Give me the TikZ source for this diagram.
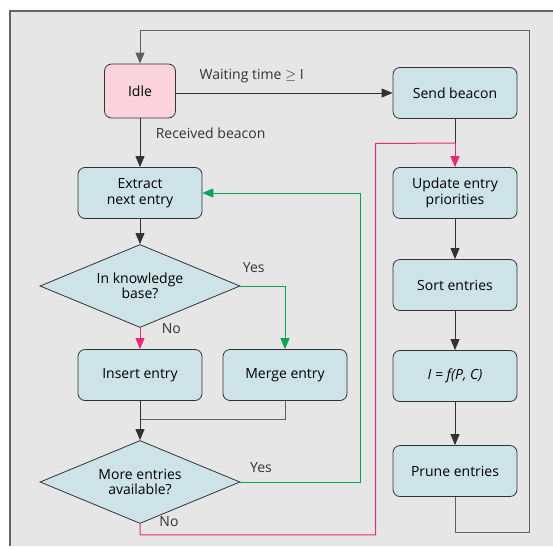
\documentclass[tikz,border=0pt]{standalone}
\usepackage{fontspec}
\usepackage{tikz}
\setmainfont{Open Sans}
\usetikzlibrary{arrows}
\usetikzlibrary{arrows.meta}
\usetikzlibrary{positioning}
\usetikzlibrary{shapes.geometric}
\definecolor{mbg}{RGB}{230, 230, 230}
\definecolor{mframe}{RGB}{100, 100, 100}
\definecolor{mbox}{RGB}{205, 227, 232}
\definecolor{midle}{RGB}{250, 211, 220}
\definecolor{mline}{RGB}{50, 50, 50}
\definecolor{mgrey}{RGB}{95, 95, 95}
\definecolor{mpink}{RGB}{235, 40, 120}
\definecolor{mgreen}{RGB}{0, 166, 81}
\tikzset{stepbox/.style = {draw=mline, fill=mbox, rounded corners=7pt,
                           minimum width=124pt, minimum height=51pt,
                           align=center, line width=0.8pt, font=\fontsize{14}{15.5}\selectfont},
         idlebox/.style = {stepbox, fill=midle, minimum width=71pt, minimum height=54pt},
         query/.style = {draw=mline, fill=mbox, diamond, aspect=2.4, inner sep=0pt,
                         minimum width=200pt, minimum height=83pt,
                         align=center, line width=0.8pt, font=\fontsize{14}{15.5}\selectfont},
         flow/.style = {draw=mline, line width=0.9pt, -{Triangle[length=11pt, width=9pt]}},
         label/.style = {font=\fontsize{14}{15.5}\selectfont, text=black!80}}

\begin{document}
\begin{tikzpicture}[x=1pt, y=-1pt]
    \useasboundingbox (0, 0) rectangle (553, 546);
    \fill [mbg] (10, 11) rectangle (553, 546);
    \draw [mframe, line width=1.5pt] (10, 546) -- (10, 11) -- (553, 11);

    \node [idlebox] (idle) at (140, 91) {Idle};
    \node [stepbox] (beacon) at (455, 93) {Send beacon};
    \node [stepbox] (extract) at (140, 193) {Extract\\next entry};
    \node [query] (known) at (140, 286) {In knowledge\\base?};
    \node [stepbox] (insert) at (140, 375) {Insert entry};
    \node [stepbox] (merge) at (285, 375) {Merge entry};
    \node [query] (more) at (140, 482) {More entries\\available?};
    \node [stepbox] (update) at (455, 193) {Update entry\\priorities};
    \node [stepbox] (sort) at (455, 285) {Sort entries};
    \node [stepbox] (cost) at (455, 376) {\itshape I = f(P, C)};
    \node [stepbox] (prune) at (455, 471) {Prune entries};

    \coordinate (join) at (140, 419);
    \coordinate (fork) at (455, 143);

    \draw [flow] (idle.east |- beacon.west) -- (beacon.west)
        node [label, pos=0.35, above=6pt] {Waiting time $\geq$ I};
    \draw [flow] (idle) -- (extract)
        node [label, pos=0.3, right=12pt] {Received beacon};
    \draw [flow] (extract) -- (known);
    \draw [flow, draw=mpink] (known.south) -- (insert.north)
        node [label, pos=0.05, right=18pt] {No};
    \draw [flow, draw=mgreen] (known.east) -| (merge.north)
        node [label, pos=0.15, above=10pt] {Yes};
    \draw [mgrey, line width=0.8pt] (merge.south) |- (join);
    \draw [flow] (insert) -- (more);
    \draw [flow, draw=mgreen] (more.east)
        node [label, above right=6pt and 6pt] {Yes} -- ++(120, 0) |- (extract.east);
    \draw [mpink, line width=1pt] (more.south) -- ++(0, 11) -| (375.5, 143.5) -- (fork);
    \node [label] at (169, 522) {No};
    \draw [mline, line width=0.9pt] (beacon) -- (fork);
    \draw [flow, draw=mpink] (fork) -- (update);
    \draw [flow] (update) -- (sort);
    \draw [flow] (sort) -- (cost);
    \draw [flow] (cost) -- (prune);
    \draw [flow, draw=mgrey] (prune.south) -- ++(0, 36) -| (529, 30) -| (idle.north);
  \end{tikzpicture}
\end{document}
